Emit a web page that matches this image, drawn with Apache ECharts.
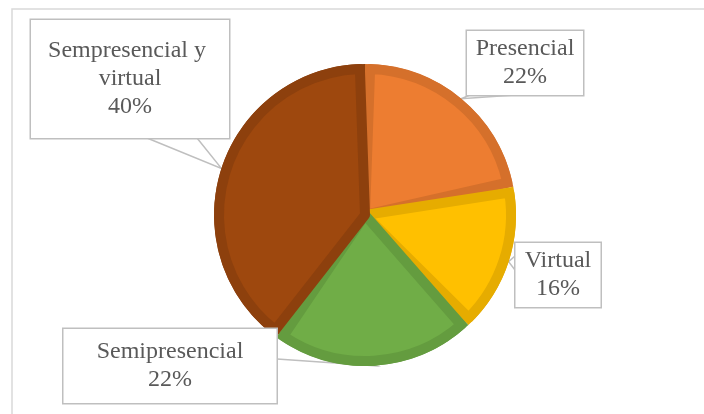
<!DOCTYPE html>
<html>
<head>
<meta charset="utf-8">
<script src="https://cdn.jsdelivr.net/npm/echarts@6/dist/echarts.min.js"></script>
<style>
html,body{margin:0;padding:0;background:#fff;}
#main{width:704px;height:414px;}
</style>
</head>
<body>
<div id="main"></div>
<script>
let categories = ['Presencial', 'Virtual', 'Semipresencial', 'Sempresencial y virtual'];
let values = [22, 16, 22, 40];
let colors = ['#ED7D31', '#FFC000', '#70AD47', '#9E480E'];
let edgeColors = ['#D5702B', '#E6AC00', '#649C3F', '#8D400D'];

// callout boxes: centre x, centre y, width, vertical padding, pointer base points
let boxes = [
  {x: 525, y: 63, w: 116, pv: 4, base: [[470, 95], [515, 95]]},
  {x: 558, y: 275, w: 85, pv: 4, base: [[515, 256], [515, 270]]},
  {x: 170, y: 366, w: 213, pv: 9, base: [[277, 338], [277, 359]]},
  {x: 130, y: 79, w: 198, pv: 17, base: [[147, 138], [197, 138]]}
];

let chart = echarts.init(document.getElementById('main'));

let outerData = categories.map(function(c, i){
  return {
    name: c,
    value: values[i],
    itemStyle: {color: edgeColors[i]},
    label: {width: boxes[i].w, padding: [boxes[i].pv, 0]}
  };
});
let innerData = categories.map(function(c, i){
  return {name: c, value: values[i], itemStyle: {color: colors[i], borderColor: edgeColors[i]}};
});

let option = {
  backgroundColor: '#fff',
  animation: false,
  graphic: [{
    type: 'rect',
    shape: {x: 12, y: 9, width: 720, height: 430},
    style: {fill: 'none', stroke: '#D9D9D9', lineWidth: 1.5},
    silent: true
  }],
  series: [
    {
      type: 'pie',
      center: [365, 215],
      radius: 151,
      startAngle: 90,
      clockwise: true,
      data: outerData,
      emphasis: {disabled: true},
      label: {
        show: true,
        position: 'outside',
        formatter: '{b}\n{d}%',
        fontFamily: 'Liberation Serif',
        fontSize: 24,
        lineHeight: 28,
        color: '#595959',
        align: 'center',
        overflow: 'break',
        backgroundColor: '#fff',
        borderColor: '#BFBFBF',
        borderWidth: 1.5
      },
      labelLine: {
        show: true,
        lineStyle: {color: '#BFBFBF', width: 1.5}
      },
      labelLayout: function(params){
        let b = boxes[params.dataIndex];
        let tip = params.labelLinePoints ? params.labelLinePoints[0] : null;
        let res = {x: b.x, y: b.y, align: 'center', verticalAlign: 'middle'};
        if (tip) res.labelLinePoints = [b.base[0], tip, b.base[1]];
        return res;
      }
    },
    {
      type: 'pie',
      center: [365, 215],
      radius: 146,
      startAngle: 90,
      clockwise: true,
      padAngle: 4,
      silent: true,
      data: innerData,
      itemStyle: {borderWidth: 10, borderJoin: 'round'},
      label: {show: false},
      labelLine: {show: false}
    }
  ]
};
chart.setOption(option);
</script>
</body>
</html>
